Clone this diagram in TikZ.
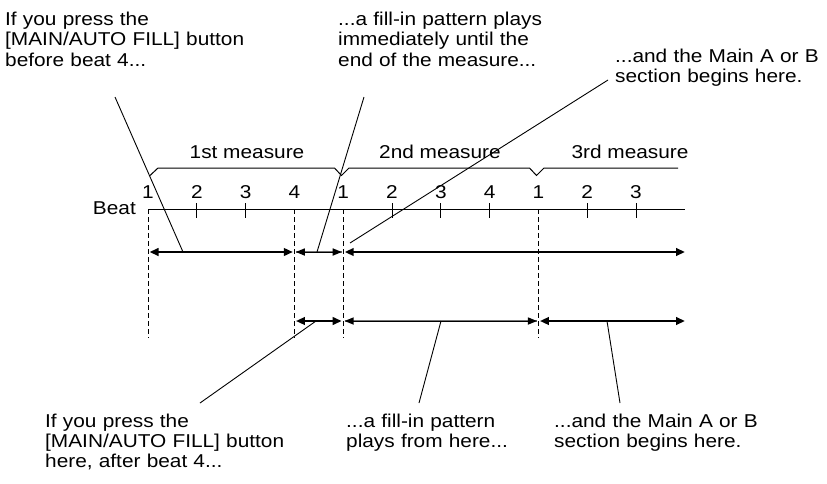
\documentclass[tikz,border=0pt]{standalone}
\usepackage{fontspec}
\setmainfont[FakeStretch=1.12]{Liberation Sans}
\usetikzlibrary{arrows.meta,calc}
\begin{document}
\begin{tikzpicture}[x=1pt,y=-1pt,
  txt/.style={font=\fontsize{18.6}{20.3}\selectfont, inner sep=0pt, text width=300pt, align=left, anchor=base west},
  lbl/.style={font=\fontsize{18.6}{20}\selectfont, inner sep=0pt, anchor=base},
  ax/.style={line width=1pt, black},
  dsh/.style={line width=1pt, black, dash pattern=on 5pt off 3pt},
  tip/.tip={Triangle[length=9pt,width=7.5pt]},
  thk/.style={line width=2.4pt, black, tip-tip, shorten <=1.5pt, shorten >=1.5pt},
  gline/.style={black!55, line width=2pt, shorten <=1.5pt, shorten >=1.5pt},
  gtips/.style={black, line width=0pt, tip-tip, shorten <=1.5pt, shorten >=1.5pt},
  lead/.style={line width=0.9pt, black}]
\useasboundingbox (0,0) rectangle (827,483);

% beat axis
\foreach \k/\n in {0/1,1/2,2/3,3/4,4/1,5/2,6/3,7/4,8/1,9/2,10/3}{
  \coordinate (b\k) at ({148+48.8*\k},209);
  \node[lbl] (n\k) at ({148+48.8*\k},198) {\n};
}
\coordinate (axend) at (685,209);
\draw[ax] (b0) -- (axend);
\foreach \k in {1,2,5,6,7,9,10}
  \draw[ax] ($(b\k)+(0,-6)$) -- ($(b\k)+(0,9)$);
\foreach \k in {0,3,4,8}
  \draw[dsh] (b\k) -- ($(b\k)+(0,129)$);
\node[lbl, anchor=base east] (beat) at (136,214) {Beat};

% measure bracket
\draw[ax] (150,175.5) -- (158,168) -- (334.5,168) -- (341.5,175.5) -- (349,168)
  -- (529.5,168) -- (536.5,175.5) -- (544,168) -- (678,168);
\node[lbl] (m1) at (247,158) {1st measure};
\node[lbl] (m2) at (440,158) {2nd measure};
\node[lbl] (m3) at (630,158) {3rd measure};

% arrow rows
\coordinate (ra) at (0,252);
\coordinate (rb) at (0,321);
\coordinate (ea) at (686.5,252);
\coordinate (eb) at (686.5,321);
\draw[thk] (b0|-ra) -- (b3|-ra);
\draw[gline] (b3|-ra) -- (b4|-ra);
\draw[gtips] (b3|-ra) -- (b4|-ra);
\draw[thk] (b4|-ra) -- (ea);
\draw[thk] (b3|-rb) -- (b4|-rb);
\draw[gline] (b4|-rb) -- (b8|-rb);
\draw[gtips] (b4|-rb) -- (b8|-rb);
\draw[thk] (b8|-rb) -- (eb);

% texts
\node[txt] (t1) at (5,25.5) {If you press the\\{}[MAIN/AUTO FILL] button\\before beat 4...};
\node[txt] (t2) at (338,25.5) {...a fill-in pattern plays\\immediately until the\\end of the measure...};
\node[txt] (t3) at (615,62) {...and the Main A or B\\section begins here.};
\node[txt] (u1) at (45,427) {If you press the\\{}[MAIN/AUTO FILL] button\\here, after beat 4...};
\node[txt] (u2) at (346,427) {...a fill-in pattern\\plays from here...};
\node[txt] (u3) at (554,427) {...and the Main A or B\\section begins here.};

% leaders
\coordinate (l1a) at (115,97);  \coordinate (l1b) at (183,252);
\coordinate (l2a) at (364,97);  \coordinate (l2b) at (317,252);
\coordinate (l3a) at (608,80);  \coordinate (l3b) at (350,243);
\coordinate (k1a) at (316,321); \coordinate (k1b) at (200,403);
\coordinate (k2a) at (441,321); \coordinate (k2b) at (419,403);
\coordinate (k3a) at (607,321); \coordinate (k3b) at (620,403);
\draw[lead] (l1a) -- (l1b);
\draw[lead] (l2a) -- (l2b);
\draw[lead] (l3a) -- (l3b);
\draw[lead] (k1a) -- (k1b);
\draw[lead] (k2a) -- (k2b);
\draw[lead] (k3a) -- (k3b);
\end{tikzpicture}
\end{document}
